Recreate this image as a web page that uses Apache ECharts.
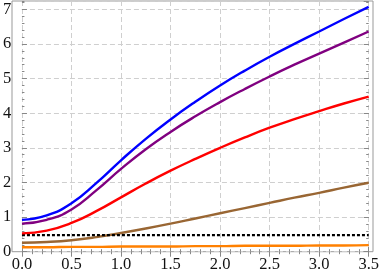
<!DOCTYPE html>
<html><head><meta charset="utf-8">
<script src="https://cdn.jsdelivr.net/npm/echarts@6/dist/echarts.min.js"></script>
<style>html,body{margin:0;padding:0;background:#fff}#c{width:382px;height:274px}</style>
</head><body><div id="c"></div>
<script>
const xs = [0, 0.25, 0.5, 0.75, 1.0, 1.25, 1.5, 1.75, 2.0, 2.25, 2.5, 2.75, 3.0, 3.25, 3.5];
const blue   = [0.92, 1.05, 1.40, 1.98, 2.64, 3.26, 3.82, 4.33, 4.80, 5.23, 5.63, 6.00, 6.36, 6.72, 7.07];
const purple = [0.81, 0.92, 1.22, 1.77, 2.39, 2.96, 3.46, 3.91, 4.32, 4.70, 5.06, 5.40, 5.72, 6.04, 6.36];
const red    = [0.53, 0.61, 0.83, 1.17, 1.57, 1.97, 2.34, 2.68, 3.00, 3.30, 3.58, 3.83, 4.06, 4.28, 4.48];
const brown  = [0.26, 0.28, 0.33, 0.42, 0.54, 0.67, 0.81, 0.96, 1.11, 1.26, 1.41, 1.56, 1.70, 1.85, 1.99];
const orange = [0.13, 0.13, 0.14, 0.14, 0.15, 0.15, 0.15, 0.16, 0.16, 0.17, 0.17, 0.17, 0.18, 0.18, 0.19];
const dotted = [0.48, 0.48, 0.48, 0.48, 0.48, 0.48, 0.48, 0.48, 0.48, 0.48, 0.48, 0.48, 0.48, 0.48, 0.48];
const xTicks = [0, 0.5, 1.0, 1.5, 2.0, 2.5, 3.0, 3.5];
const yTicks = [0, 1, 2, 3, 4, 5, 6, 7];

const pair = a => xs.map((x, i) => [x, a[i]]);
const FF = 'Liberation Serif';
const tickCol = '#888';
const chart = echarts.init(document.getElementById('c'), null, {renderer: 'canvas'});
const line = (data, color, extra) => Object.assign({
  type: 'line', xAxisIndex: 1, yAxisIndex: 1, data: pair(data), smooth: 0.5,
  showSymbol: false, lineStyle: {color: color, width: 2.4}, z: 5, animation: false
}, extra || {});
chart.setOption({
  animation: false,
  textStyle: {fontFamily: FF, fontSize: 16},
  grid: [
    {left: 12, right: 9, top: 1, bottom: 22.3, show: true, borderColor: '#999', borderWidth: 1, backgroundColor: 'transparent'},
    {left: 18.7, right: 10.3, top: 1, bottom: 22.3}
  ],
  xAxis: [
    {gridIndex: 0, type: 'value', min: 0, max: 1, show: false},
    {gridIndex: 1, type: 'value', min: 0, max: 3.5, interval: 0.5, position: 'bottom',
     axisLine: {show: false},
     axisTick: {show: true, inside: true, length: 5, lineStyle: {color: tickCol}},
     minorTick: {show: true, splitNumber: 5, length: 2.5, lineStyle: {color: tickCol}},
     axisLabel: {margin: 4, fontFamily: FF, fontSize: 16.5, color: '#111',
                 formatter: v => xTicks.includes(v) ? v.toFixed(1) : ''},
     splitLine: {show: true, lineStyle: {color: '#cfcfcf', type: [5, 3], width: 1}}},
    {gridIndex: 1, type: 'value', min: 0, max: 3.5, interval: 0.5, position: 'top',
     axisLine: {show: false}, axisLabel: {show: false}, splitLine: {show: false},
     axisTick: {show: true, inside: true, length: 5, lineStyle: {color: tickCol}},
     minorTick: {show: true, splitNumber: 5, length: 2.5, lineStyle: {color: tickCol}}}
  ],
  yAxis: [
    {gridIndex: 0, type: 'value', min: 0, max: 1, show: false},
    {gridIndex: 1, type: 'value', min: 0, max: 7.24, interval: 1, position: 'left', offset: 6.7,
     axisLine: {show: false},
     axisTick: {show: true, inside: true, length: 5, lineStyle: {color: tickCol}},
     axisLabel: {margin: 4, showMaxLabel: false, fontFamily: FF, fontSize: 16.5, color: '#111',
                 formatter: v => yTicks.includes(v) ? String(v) : ''},
     splitLine: {show: true, lineStyle: {color: '#cfcfcf', type: [5, 3], width: 1}}},
    {gridIndex: 1, type: 'value', min: 0, max: 7.24, interval: 0.2, position: 'left', offset: 6.7,
     axisLine: {show: false}, axisLabel: {show: false}, splitLine: {show: false},
     axisTick: {show: true, inside: true, length: 2.5, lineStyle: {color: tickCol}}},
    {gridIndex: 1, type: 'value', min: 0, max: 7.24, interval: 1, position: 'right',
     axisLine: {show: false}, axisLabel: {show: false}, splitLine: {show: false},
     axisTick: {show: true, inside: true, length: 5, lineStyle: {color: tickCol}}},
    {gridIndex: 1, type: 'value', min: 0, max: 7.24, interval: 0.2, position: 'right',
     axisLine: {show: false}, axisLabel: {show: false}, splitLine: {show: false},
     axisTick: {show: true, inside: true, length: 2.5, lineStyle: {color: tickCol}}}
  ],
  series: [
    line(orange, '#ff8000'),
    line(brown, '#996633'),
    line(dotted, '#000000', {lineStyle: {color: '#000', width: 2.4, type: [3, 2]}, smooth: false}),
    line(red, '#ff0000'),
    line(purple, '#800080'),
    line(blue, '#0000ff')
  ]
});
</script></body></html>
